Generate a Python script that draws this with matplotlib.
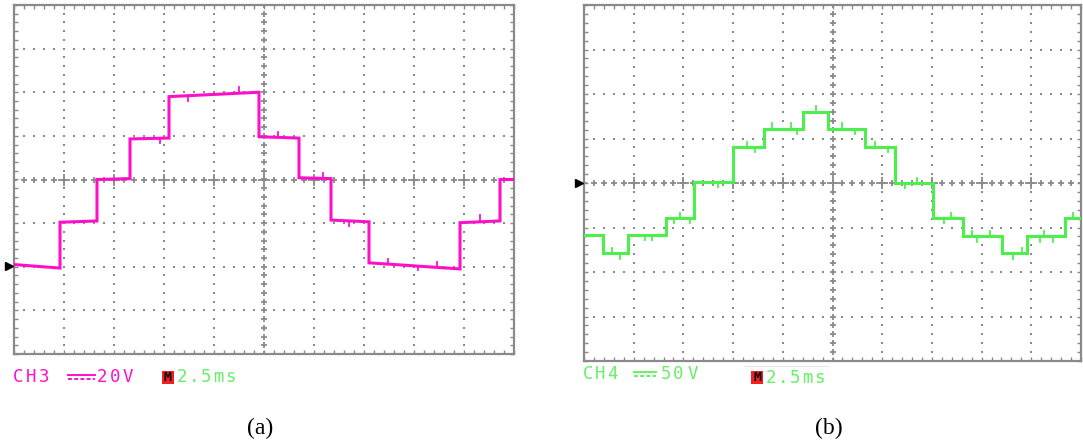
import numpy as np
import matplotlib
matplotlib.use("Agg")
import matplotlib.pyplot as plt
from matplotlib.lines import Line2D
from matplotlib.patches import Rectangle

W, H = 1083, 446

# ---- panel (a): CH3, 20 V/div, 2.5 ms/div (values in divisions) ----
A_EDGES = [0, 0.92, 1.66, 2.32, 3.10, 4.90, 5.70, 6.34, 7.10, 8.92, 9.72, 10.0]
A_START = [-1.95, -0.98, 0.00, 0.93, 1.90, 0.98, 0.04, -0.93, -1.91, -0.99, 0.00]
A_END = [-2.03, -0.95, 0.02, 0.95, 2.00, 0.95, 0.02, -0.97, -2.05, -0.95, 0.00]
A_SPIKE_T = [2.92, 3.48, 4.50, 5.28, 6.18, 6.70, 7.48, 8.08, 8.46, 9.32]
A_SPIKE_H = [-0.10, -0.12, 0.15, 0.12, 0.12, -0.12, 0.12, -0.10, 0.12, 0.15]
A_MARKER = -1.98

# ---- panel (b): CH4, 50 V/div, 2.5 ms/div ----
B_EDGES = [0, 0.38, 0.89, 1.65, 2.21, 3.00, 3.62, 4.41, 4.91, 5.65, 6.26,
           7.02, 7.63, 8.41, 8.91, 9.68, 10.0]
B_LEVELS = [-1.17, -1.58, -1.17, -0.79, 0.02, 0.81, 1.22, 1.60, 1.22, 0.81,
            0.00, -0.79, -1.20, -1.58, -1.20, -0.79]
B_SPIKE_T = [0.56, 0.72, 1.23, 1.37, 1.81, 1.93, 2.13, 2.70, 3.28, 3.44, 3.78,
             4.17, 4.29, 4.67, 5.19, 5.45, 5.85, 6.12, 6.46, 6.70, 7.24, 7.38,
             7.81, 7.91, 8.17, 8.63, 8.81, 9.17, 9.26, 9.44, 9.84]
B_SPIKE_H = [0.12, -0.12, -0.12, -0.10, -0.12, 0.12, -0.12, -0.12, 0.12, -0.12,
             0.12, 0.12, -0.12, 0.12, 0.12, -0.12, 0.12, -0.12, -0.12, 0.12,
             -0.12, 0.12, 0.12, -0.12, 0.12, -0.12, 0.12, -0.12, 0.12, -0.12, 0.12]
B_MARKER = 0.0

MAGENTA = "#ff10c8"
GREEN = "#4cf04c"
GREEN_TXT = "#66f066"
GRID = "#8a8a8a"


def scope_axes(fig, rect, marker_y):
    ax = fig.add_axes(rect)
    ax.set_xlim(0, 10)
    ax.set_ylim(-4, 4)
    for s in ax.spines.values():
        s.set_color(GRID)
        s.set_linewidth(1.6)
    ax.set_xticks(np.arange(0, 10.01, 0.2))
    ax.set_yticks(np.arange(-4, 4.01, 0.2))
    ax.tick_params(which="both", direction="in", top=True, right=True,
                   labelbottom=False, labelleft=False, length=3,
                   width=1, color=GRID)

    fine_y = np.arange(-4, 4.01, 0.2)
    fine_x = np.arange(0, 10.01, 0.2)
    for gx in range(1, 10):
        if gx == 5:
            continue
        ax.plot(np.full_like(fine_y, gx), fine_y, ls="none", marker="s",
                ms=1.5, mew=0, color=GRID, zorder=1)
    for gy in range(-3, 4):
        if gy == 0:
            continue
        ax.plot(fine_x, np.full_like(fine_x, gy), ls="none", marker="s",
                ms=1.5, mew=0, color=GRID, zorder=1)
    ax.plot(np.full_like(fine_y, 5), fine_y, ls="none", marker="+",
            ms=5, mew=1.3, color=GRID, zorder=1)
    ax.plot(fine_x, np.zeros_like(fine_x), ls="none", marker="+",
            ms=5, mew=1.3, color=GRID, zorder=1)
    ax.plot(np.arange(1, 10), np.zeros(9), ls="none", marker="+",
            ms=8, mew=1.3, color=GRID, zorder=1)

    ax.plot([-0.1], [marker_y], marker=">", ms=6, color="black",
            clip_on=False, zorder=5)
    return ax


def step_trace(edges, start, end):
    xs, ys = [], []
    for i in range(len(start)):
        xs += [edges[i], edges[i + 1]]
        ys += [start[i], end[i]]
    return np.array(xs), np.array(ys)


def draw_spikes(ax, edges, start, end, spike_t, spike_h, color):
    for t, h in zip(spike_t, spike_h):
        i = min(np.searchsorted(edges, t) - 1, len(start) - 1)
        f = (t - edges[i]) / (edges[i + 1] - edges[i])
        base = start[i] + f * (end[i] - start[i])
        ax.plot([t, t], [base, base + h], color=color, lw=1.3, zorder=4)


def fx(px):
    return px / W


def fy(py):
    return 1 - py / H


def scope_text(fig, x0, y, s, color, pitch):
    for k, ch in enumerate(s):
        fig.text(fx(x0 + k * pitch), fy(y), ch, color=color,
                 family="DejaVu Sans Mono", fontsize=12.5,
                 ha="left", va="center")


def dc_symbol(fig, x0, x1, y, color):
    fig.add_artist(Line2D([fx(x0), fx(x1)], [fy(y - 2), fy(y - 2)],
                          color=color, lw=1.4))
    fig.add_artist(Line2D([fx(x0), fx(x1)], [fy(y + 2), fy(y + 2)],
                          color=color, lw=1.4, ls=(0, (2, 1.2))))


def m_box(fig, x0, y0):
    fig.add_artist(Rectangle((fx(x0), fy(y0 + 13)), 12 / W, 13 / H,
                             facecolor="#f02020", edgecolor="none"))
    fig.text(fx(x0 + 6), fy(y0 + 6.5), "M", color="black",
             family="DejaVu Sans Mono", fontsize=9.5, fontweight="bold",
             ha="center", va="center")


fig = plt.figure(figsize=(W / 100, H / 100), dpi=100)

# panel (a)
ax_a = scope_axes(fig, [fx(14), fy(354), (514 - 14) / W, (354 - 5) / H], A_MARKER)
xa, ya = step_trace(A_EDGES, A_START, A_END)
ax_a.plot(xa, ya, color=MAGENTA, lw=2.2, zorder=3, solid_joinstyle="miter")
draw_spikes(ax_a, A_EDGES, A_START, A_END, A_SPIKE_T, A_SPIKE_H, MAGENTA)

# panel (b)
ax_b = scope_axes(fig, [fx(584), fy(361), (1081 - 584) / W, (361 - 5) / H], B_MARKER)
xb, yb = step_trace(B_EDGES, B_LEVELS, B_LEVELS)
ax_b.plot(xb, yb, color=GREEN, lw=2.2, zorder=3, solid_joinstyle="miter")
draw_spikes(ax_b, B_EDGES, B_LEVELS, B_LEVELS, B_SPIKE_T, B_SPIKE_H, GREEN)

# readouts under the screens
scope_text(fig, 13, 377, "CH3", MAGENTA, 13)
dc_symbol(fig, 68, 95, 377, MAGENTA)
scope_text(fig, 97, 377, "20V", MAGENTA, 13)
m_box(fig, 162, 371)
scope_text(fig, 177, 377, "2.5ms", GREEN_TXT, 12)

scope_text(fig, 583, 374, "CH4", GREEN_TXT, 12)
dc_symbol(fig, 634, 656, 374, GREEN_TXT)
scope_text(fig, 661, 374, "50", GREEN_TXT, 12)
scope_text(fig, 688, 374, "V", GREEN_TXT, 12)
fig.add_artist(Line2D([fx(745), fx(828)], [fy(366), fy(366)], color="#e6e6e6", lw=0.8))
m_box(fig, 751, 371)
scope_text(fig, 766, 378, "2.5ms", GREEN_TXT, 12)

fig.text(fx(260), fy(428), "(a)", family="Liberation Serif", fontsize=17,
         ha="center", va="center")
fig.text(fx(829), fy(428), "(b)", family="Liberation Serif", fontsize=17,
         ha="center", va="center")

fig.savefig("out.png", dpi=100)
